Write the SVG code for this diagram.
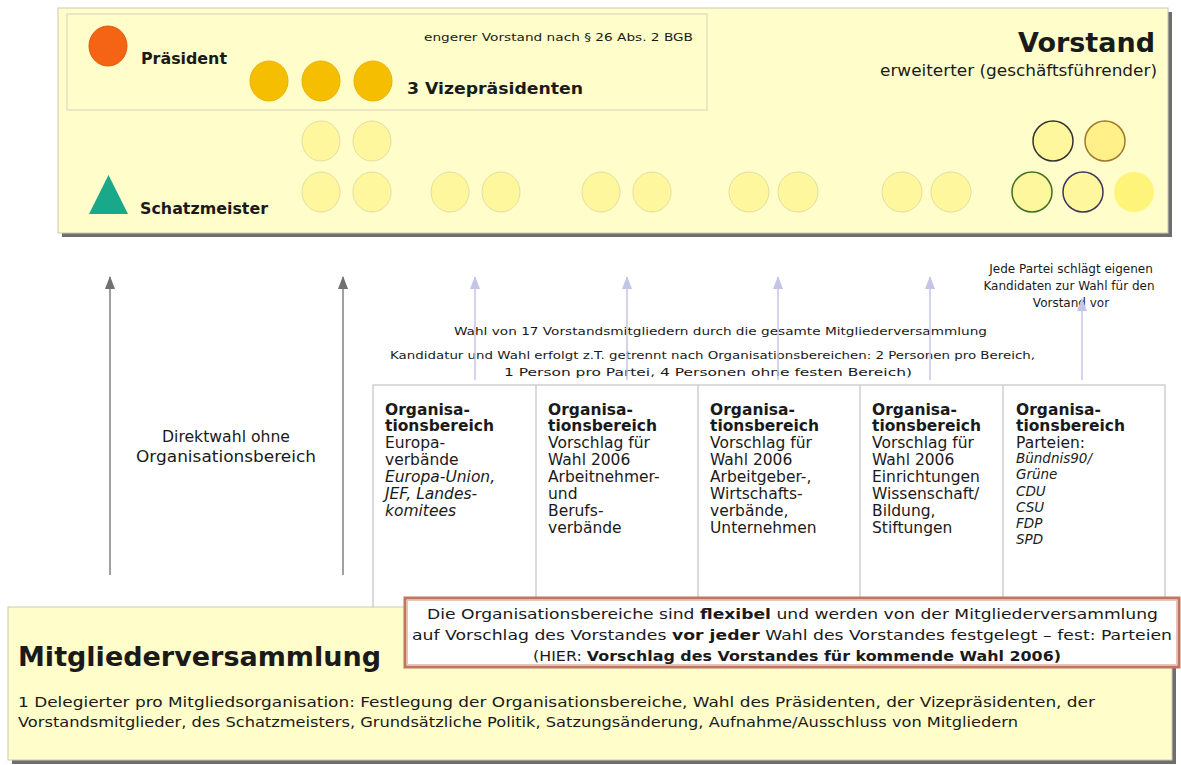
<svg xmlns="http://www.w3.org/2000/svg" width="1181" height="765" viewBox="0 0 1181 765">
<defs>
<style>
.t{font-family:"DejaVu Sans","Verdana",sans-serif;fill:#1a1a1a}
.b{font-weight:bold}
.i{font-style:italic}
.sm{font-size:11px}
.md{font-size:13.5px}
.col{font-size:15.5px}
.pale{fill:#FFF79E;stroke:#E4DDA0;stroke-width:1}
</style>
<marker id="ag" markerWidth="13" markerHeight="10" refX="12" refY="5" orient="auto" markerUnits="userSpaceOnUse" viewBox="0 0 13 10">
<path d="M0,0 L13,5 L0,10 Z" fill="#707070"/>
</marker>
<marker id="al" markerWidth="13" markerHeight="10" refX="12" refY="5" orient="auto" markerUnits="userSpaceOnUse" viewBox="0 0 13 10">
<path d="M0,0 L13,5 L0,10 Z" fill="#C4C4E6"/>
</marker>
</defs>
<rect width="1181" height="765" fill="#ffffff"/>

<g id="vorstand">
<rect x="62" y="12" width="1110" height="225" fill="#6e6e6e"/>
<rect x="58" y="8" width="1110" height="225" fill="#FFFDC9" stroke="#C9C9B8" stroke-width="1"/>
<text class="t b" x="1155" y="52" font-size="26" text-anchor="end" textLength="137" lengthAdjust="spacingAndGlyphs">Vorstand</text>
<text class="t" x="1157" y="76" font-size="16" text-anchor="end" textLength="277" lengthAdjust="spacingAndGlyphs">erweiterter (geschäftsführender)</text>
</g>

<g id="engerer-vorstand">
<rect x="67" y="14" width="640" height="96" fill="none" stroke="#D6D4C0" stroke-width="1"/>
<text class="t sm" x="424" y="41" textLength="269" lengthAdjust="spacingAndGlyphs">engerer Vorstand nach § 26 Abs. 2 BGB</text>
</g>

<g id="praesident">
<ellipse cx="108" cy="46" rx="19" ry="20" fill="#F46414" stroke="#E05A10"/>
<text class="t b" x="141" y="64" font-size="15.5" textLength="86" lengthAdjust="spacingAndGlyphs">Präsident</text>
</g>

<g id="vizepraesidenten">
<ellipse cx="269" cy="81" rx="19" ry="20" fill="#F6BE00" stroke="#E8B200"/>
<ellipse cx="321" cy="81" rx="19" ry="20" fill="#F6BE00" stroke="#E8B200"/>
<ellipse cx="373" cy="81" rx="19" ry="20" fill="#F6BE00" stroke="#E8B200"/>
<text class="t b" x="407" y="94" font-size="16.5" textLength="176" lengthAdjust="spacingAndGlyphs">3 Vizepräsidenten</text>
</g>

<g id="schatzmeister">
<path d="M89,214 L128,214 L108.5,175 Z" fill="#1AA88A"/>
<text class="t b" x="140" y="214" font-size="15" textLength="128" lengthAdjust="spacingAndGlyphs">Schatzmeister</text>
</g>

<g id="vorstandsmitglieder">
<ellipse class="pale" cx="321" cy="141" rx="19" ry="20"/>
<ellipse class="pale" cx="372" cy="141" rx="19" ry="20"/>
<ellipse class="pale" cx="321" cy="192" rx="19" ry="20"/>
<ellipse class="pale" cx="372" cy="192" rx="19" ry="20"/>
<ellipse class="pale" cx="450" cy="192" rx="19" ry="20"/>
<ellipse class="pale" cx="501" cy="192" rx="19" ry="20"/>
<ellipse class="pale" cx="601" cy="192" rx="19" ry="20"/>
<ellipse class="pale" cx="652" cy="192" rx="19" ry="20"/>
<ellipse class="pale" cx="749" cy="192" rx="20" ry="20"/>
<ellipse class="pale" cx="798" cy="192" rx="20" ry="20"/>
<ellipse class="pale" cx="902" cy="192" rx="20" ry="20"/>
<ellipse class="pale" cx="951" cy="192" rx="20" ry="20"/>
<circle cx="1053" cy="141" r="20" fill="#FFF79E" stroke="#333333" stroke-width="1.5"/>
<circle cx="1105" cy="141" r="20" fill="#FFF08A" stroke="#A0782A" stroke-width="1.5"/>
<circle cx="1032" cy="192" r="20" fill="#FFF79E" stroke="#3E6E1E" stroke-width="1.5"/>
<circle cx="1083" cy="192" r="20" fill="#FFF79E" stroke="#3A3460" stroke-width="1.5"/>
<circle cx="1134" cy="192" r="20" fill="#FFF47A"/>
</g>

<g id="partei-hinweis">
<text class="t" font-size="12" text-anchor="middle"><tspan x="1071" y="273">Jede Partei schlägt eigenen</tspan><tspan x="1069" y="290">Kandidaten zur Wahl für den</tspan><tspan x="1071" y="307">Vorstand vor</tspan></text>
</g>

<g id="wahl-info">
<text class="t sm" x="454" y="335" textLength="533" lengthAdjust="spacingAndGlyphs">Wahl von 17 Vorstandsmitgliedern durch die gesamte Mitgliederversammlung</text>
<text class="t sm" x="390" y="359" textLength="645" lengthAdjust="spacingAndGlyphs">Kandidatur und Wahl erfolgt z.T. getrennt nach Organisationsbereichen: 2 Personen pro Bereich,</text>
<text class="t sm" x="504" y="376" textLength="408" lengthAdjust="spacingAndGlyphs">1 Person pro Partei, 4 Personen ohne festen Bereich)</text>
</g>

<g id="connectors" fill="none" stroke-width="1.5">
<line x1="110" y1="575" x2="110" y2="277" stroke="#808080" marker-end="url(#ag)"/>
<line x1="343" y1="575" x2="343" y2="277" stroke="#808080" marker-end="url(#ag)"/>
<line x1="475" y1="380" x2="475" y2="277" stroke="#C4C4E6" marker-end="url(#al)"/>
<line x1="627" y1="380" x2="627" y2="277" stroke="#C4C4E6" marker-end="url(#al)"/>
<line x1="778" y1="380" x2="778" y2="277" stroke="#C4C4E6" marker-end="url(#al)"/>
<line x1="930" y1="380" x2="930" y2="277" stroke="#C4C4E6" marker-end="url(#al)"/>
<line x1="1082" y1="380" x2="1082" y2="299" stroke="#C4C4E6" marker-end="url(#al)"/>
</g>

<g id="direktwahl">
<text class="t" font-size="15.5" text-anchor="middle"><tspan x="226" y="442" textLength="128" lengthAdjust="spacingAndGlyphs">Direktwahl ohne</tspan><tspan x="226" y="462" textLength="180" lengthAdjust="spacingAndGlyphs">Organisationsbereich</tspan></text>
</g>

<g id="organisationsbereiche">
<rect x="373" y="385" width="792" height="230" fill="#ffffff" stroke="#CFCFCF" stroke-width="1.5"/>
<line x1="536" y1="385" x2="536" y2="615" stroke="#CFCFCF" stroke-width="1.5"/>
<line x1="698" y1="385" x2="698" y2="615" stroke="#CFCFCF" stroke-width="1.5"/>
<line x1="860" y1="385" x2="860" y2="615" stroke="#CFCFCF" stroke-width="1.5"/>
<line x1="1003" y1="385" x2="1003" y2="615" stroke="#CFCFCF" stroke-width="1.5"/>
</g>

<g id="bereich-europa">
<text class="t col"><tspan class="b" x="385" y="415">Organisa-</tspan><tspan class="b" x="385" y="431">tionsbereich</tspan><tspan x="385" y="448">Europa-</tspan><tspan x="385" y="465">verbände</tspan><tspan class="i" x="385" y="482">Europa-Union,</tspan><tspan class="i" x="385" y="499">JEF, Landes-</tspan><tspan class="i" x="385" y="516">komitees</tspan></text>
</g>
<g id="bereich-arbeitnehmer">
<text class="t col"><tspan class="b" x="548" y="415">Organisa-</tspan><tspan class="b" x="548" y="431">tionsbereich</tspan><tspan x="548" y="448">Vorschlag für</tspan><tspan x="548" y="465">Wahl 2006</tspan><tspan x="548" y="482">Arbeitnehmer-</tspan><tspan x="548" y="499">und</tspan><tspan x="548" y="516">Berufs-</tspan><tspan x="548" y="533">verbände</tspan></text>
</g>
<g id="bereich-arbeitgeber">
<text class="t col"><tspan class="b" x="710" y="415">Organisa-</tspan><tspan class="b" x="710" y="431">tionsbereich</tspan><tspan x="710" y="448">Vorschlag für</tspan><tspan x="710" y="465">Wahl 2006</tspan><tspan x="710" y="482">Arbeitgeber-,</tspan><tspan x="710" y="499">Wirtschafts-</tspan><tspan x="710" y="516">verbände,</tspan><tspan x="710" y="533">Unternehmen</tspan></text>
</g>
<g id="bereich-wissenschaft">
<text class="t col"><tspan class="b" x="872" y="415">Organisa-</tspan><tspan class="b" x="872" y="431">tionsbereich</tspan><tspan x="872" y="448">Vorschlag für</tspan><tspan x="872" y="465">Wahl 2006</tspan><tspan x="872" y="482">Einrichtungen</tspan><tspan x="872" y="499">Wissenschaft/</tspan><tspan x="872" y="516">Bildung,</tspan><tspan x="872" y="533">Stiftungen</tspan></text>
</g>
<g id="bereich-parteien">
<text class="t col"><tspan class="b" x="1016" y="415">Organisa-</tspan><tspan class="b" x="1016" y="431">tionsbereich</tspan><tspan x="1016" y="448">Parteien:</tspan></text>
<text class="t i" font-size="13.5"><tspan x="1016" y="463">Bündnis90/</tspan><tspan x="1016" y="479">Grüne</tspan><tspan x="1016" y="496">CDU</tspan><tspan x="1016" y="512">CSU</tspan><tspan x="1016" y="528">FDP</tspan><tspan x="1016" y="544">SPD</tspan></text>
</g>

<g id="mitgliederversammlung">
<rect x="12" y="611" width="1164" height="153" fill="#6e6e6e"/>
<rect x="8" y="607" width="1164" height="153" fill="#FFFDC9" stroke="#C9C9B8" stroke-width="1"/>
<text class="t b" x="18" y="666" font-size="26" textLength="363" lengthAdjust="spacingAndGlyphs">Mitgliederversammlung</text>
<text class="t md" x="18" y="707" textLength="1077" lengthAdjust="spacingAndGlyphs">1 Delegierter pro Mitgliedsorganisation: Festlegung der Organisationsbereiche, Wahl des Präsidenten, der Vizepräsidenten, der</text>
<text class="t md" x="18" y="727" textLength="1000" lengthAdjust="spacingAndGlyphs">Vorstandsmitglieder, des Schatzmeisters, Grundsätzliche Politik, Satzungsänderung, Aufnahme/Ausschluss von Mitgliedern</text>
</g>

<g id="hinweis-flexibel">
<rect x="405" y="598" width="774" height="69" fill="#ffffff" stroke="#C27660" stroke-width="3"/>
<rect x="407.5" y="600.5" width="769" height="64" fill="none" stroke="#E8C4B8" stroke-width="1"/>
<text class="t" font-size="14" x="427" y="619" textLength="731" lengthAdjust="spacingAndGlyphs">Die Organisationsbereiche sind <tspan class="b">flexibel</tspan> und werden von der Mitgliederversammlung</text>
<text class="t" font-size="14" x="412" y="640" textLength="760" lengthAdjust="spacingAndGlyphs">auf Vorschlag des Vorstandes <tspan class="b">vor jeder</tspan> Wahl des Vorstandes festgelegt – fest: Parteien</text>
<text class="t" font-size="14" x="533" y="661" textLength="528" lengthAdjust="spacingAndGlyphs">(HIER: <tspan class="b">Vorschlag des Vorstandes für kommende Wahl 2006)</tspan></text>
</g>
</svg>
